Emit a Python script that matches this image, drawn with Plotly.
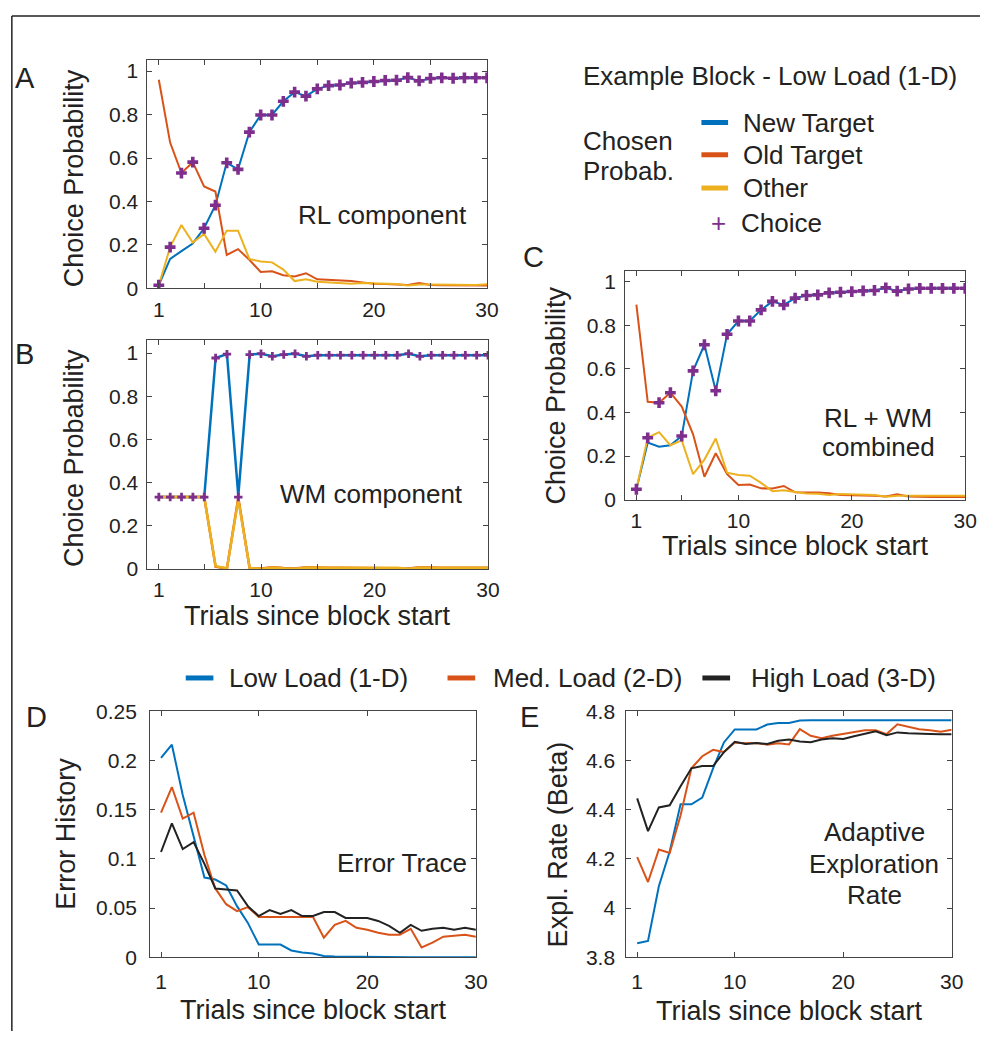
import plotly.graph_objects as go

trials = list(range(1, 31))

# ---- Panel A: RL component ----
rl_new = [0.015, 0.136, 0.172, 0.207, 0.277, 0.383, 0.578, 0.548, 0.719, 0.798,
          0.798, 0.861, 0.903, 0.885, 0.918, 0.933, 0.936, 0.945, 0.948, 0.952,
          0.957, 0.958, 0.970, 0.955, 0.966, 0.969, 0.967, 0.969, 0.969, 0.969]
rl_old = [0.960, 0.671, 0.531, 0.581, 0.469, 0.446, 0.154, 0.181, 0.132, 0.076,
          0.079, 0.061, 0.055, 0.070, 0.042, 0.040, 0.038, 0.034, 0.028, 0.022,
          0.021, 0.020, 0.016, 0.025, 0.016, 0.015, 0.014, 0.014, 0.013, 0.014]
rl_other = [0.015, 0.190, 0.292, 0.211, 0.251, 0.169, 0.266, 0.266, 0.136, 0.124,
            0.120, 0.087, 0.034, 0.042, 0.031, 0.027, 0.026, 0.022, 0.025, 0.024,
            0.021, 0.020, 0.014, 0.018, 0.018, 0.017, 0.018, 0.016, 0.016, 0.019]
rl_choice = [0.015, 0.190, 0.531, 0.581, 0.277, 0.383, 0.578, 0.548, 0.719, 0.798,
             0.798, 0.861, 0.903, 0.885, 0.918, 0.933, 0.936, 0.945, 0.948, 0.952,
             0.957, 0.958, 0.970, 0.955, 0.966, 0.969, 0.967, 0.969, 0.969, 0.969]

# ---- Panel B: WM component ----
wm_new = [0.333, 0.333, 0.333, 0.333, 0.333, 0.977, 0.995, 0.338, 0.993, 0.997,
          0.985, 0.993, 0.997, 0.985, 0.990, 0.990, 0.990, 0.990, 0.990, 0.990,
          0.990, 0.990, 0.997, 0.985, 0.990, 0.990, 0.990, 0.990, 0.990, 0.990]
wm_old = [0.333, 0.333, 0.333, 0.333, 0.333, 0.010, 0.002, 0.330, 0.003, 0.002,
          0.008, 0.004, 0.002, 0.008, 0.005, 0.005, 0.005, 0.005, 0.005, 0.005,
          0.005, 0.005, 0.002, 0.008, 0.005, 0.005, 0.005, 0.005, 0.005, 0.005]
wm_other = [0.333, 0.333, 0.333, 0.333, 0.333, 0.013, 0.003, 0.322, 0.004, 0.001,
            0.007, 0.003, 0.001, 0.007, 0.005, 0.005, 0.005, 0.005, 0.005, 0.005,
            0.005, 0.005, 0.001, 0.007, 0.005, 0.005, 0.005, 0.005, 0.005, 0.005]
wm_choice = [0.333, 0.333, 0.333, 0.333, 0.333, 0.977, 0.995, 0.333, 0.993, 0.997,
             0.985, 0.993, 0.997, 0.985, 0.990, 0.990, 0.990, 0.990, 0.990, 0.990,
             0.990, 0.990, 0.997, 0.985, 0.990, 0.990, 0.990, 0.990, 0.990, 0.990]

# ---- Panel C: RL + WM combined ----
cb_new = [0.048, 0.262, 0.243, 0.250, 0.292, 0.591, 0.711, 0.500, 0.759, 0.820,
          0.820, 0.871, 0.910, 0.894, 0.925, 0.937, 0.940, 0.949, 0.952, 0.955,
          0.958, 0.960, 0.972, 0.957, 0.967, 0.970, 0.970, 0.970, 0.970, 0.970]
cb_old = [0.895, 0.449, 0.445, 0.491, 0.427, 0.300, 0.105, 0.213, 0.117, 0.067,
          0.070, 0.052, 0.051, 0.063, 0.034, 0.035, 0.033, 0.030, 0.022, 0.020,
          0.020, 0.018, 0.015, 0.025, 0.015, 0.012, 0.012, 0.012, 0.012, 0.012]
cb_other = [0.048, 0.284, 0.310, 0.250, 0.272, 0.117, 0.184, 0.281, 0.124, 0.113,
            0.110, 0.077, 0.039, 0.043, 0.035, 0.028, 0.027, 0.021, 0.026, 0.025,
            0.022, 0.022, 0.013, 0.018, 0.018, 0.018, 0.018, 0.018, 0.018, 0.018]
cb_choice = [0.048, 0.284, 0.445, 0.491, 0.292, 0.591, 0.711, 0.500, 0.759, 0.820,
             0.820, 0.871, 0.910, 0.894, 0.925, 0.937, 0.940, 0.949, 0.952, 0.955,
             0.958, 0.960, 0.972, 0.957, 0.967, 0.970, 0.970, 0.970, 0.970, 0.970]

# ---- Panel D: Error trace ----
err_low = [0.2025, 0.216, 0.165, 0.123, 0.081, 0.079, 0.073, 0.052, 0.035, 0.013,
           0.013, 0.013, 0.007, 0.005, 0.004, 0.0015, 0.001, 0.0008, 0.0005, 0.0004,
           0.0003, 0.0002, 0.0002, 0.0001, 0.0001, 0.0001, 0.0001, 0.0001, 0.0001, 0.0001]
err_med = [0.147, 0.173, 0.141, 0.147, 0.104, 0.070, 0.054, 0.047, 0.051, 0.041,
           0.041, 0.041, 0.041, 0.041, 0.041, 0.020, 0.033, 0.037, 0.030, 0.028,
           0.025, 0.023, 0.023, 0.029, 0.010, 0.015, 0.021, 0.022, 0.023, 0.021]
err_high = [0.107, 0.136, 0.110, 0.117, 0.095, 0.070, 0.069, 0.068, 0.052, 0.042,
            0.048, 0.044, 0.048, 0.042, 0.042, 0.046, 0.046, 0.040, 0.040, 0.040,
            0.037, 0.032, 0.025, 0.033, 0.027, 0.029, 0.030, 0.028, 0.030, 0.028]

# ---- Panel E: Adaptive exploration rate ----
beta_low = [3.857, 3.867, 4.089, 4.230, 4.422, 4.422, 4.449, 4.568, 4.673, 4.726,
            4.726, 4.726, 4.746, 4.752, 4.752, 4.762, 4.763, 4.763, 4.763, 4.763,
            4.763, 4.763, 4.763, 4.763, 4.763, 4.763, 4.763, 4.763, 4.763, 4.763]
beta_med = [4.207, 4.106, 4.238, 4.224, 4.376, 4.568, 4.617, 4.643, 4.634, 4.673,
            4.670, 4.671, 4.664, 4.670, 4.665, 4.727, 4.700, 4.690, 4.700, 4.707,
            4.717, 4.723, 4.723, 4.707, 4.747, 4.738, 4.727, 4.723, 4.717, 4.725]
beta_high = [4.446, 4.313, 4.409, 4.418, 4.495, 4.568, 4.577, 4.577, 4.634, 4.676,
             4.667, 4.671, 4.667, 4.680, 4.685, 4.677, 4.674, 4.685, 4.690, 4.687,
             4.698, 4.707, 4.718, 4.703, 4.714, 4.710, 4.707, 4.707, 4.706, 4.706]

prob_ticks = [0, 0.2, 0.4, 0.6, 0.8, 1]
x_ticks_fine = [1, 5, 10, 15, 20, 25, 30]
x_text_fine = ["1", "", "10", "", "20", "", "30"]
x_ticks = [1, 10, 20, 30]
x_text = ["1", "10", "20", "30"]
err_ticks = [0, 0.05, 0.1, 0.15, 0.2, 0.25]
beta_ticks = [3.8, 4, 4.2, 4.4, 4.6, 4.8]

BLUE = "#0072BD"
RED = "#D95319"
YELLOW = "#EDB120"
PURPLE = "#7E2F8E"
BLACK = "#222222"
FONT = "Liberation Sans, Arial, Helvetica, sans-serif"
TXT = "#222222"
AXC = "#444444"

W, H = 992, 1042


def px(x):
    return x / W


def py(y):
    return 1 - y / H


fig = go.Figure()


def add_lines(xa, ya, series, width=2):
    for vals, col in series:
        fig.add_trace(go.Scatter(x=trials, y=vals, mode="lines", xaxis=xa, yaxis=ya,
                                 line=dict(color=col, width=width), showlegend=False,
                                 hoverinfo="skip"))


def add_choice(xa, ya, vals, size):
    fig.add_trace(go.Scatter(x=trials, y=vals, mode="markers", xaxis=xa, yaxis=ya,
                             marker=dict(symbol="cross", size=size, color=PURPLE,
                                         line=dict(width=0)),
                             showlegend=False, hoverinfo="skip"))


add_lines("x", "y", [(rl_new, BLUE), (rl_old, RED), (rl_other, YELLOW)])
add_choice("x", "y", rl_choice, 9)
add_lines("x2", "y2", [(wm_new, BLUE), (wm_old, RED), (wm_other, YELLOW)], width=2.5)
add_choice("x2", "y2", wm_choice, 7)
add_lines("x3", "y3", [(cb_new, BLUE), (cb_old, RED), (cb_other, YELLOW)])
add_choice("x3", "y3", cb_choice, 9)
add_lines("x4", "y4", [(err_low, BLUE), (err_med, RED), (err_high, BLACK)])
add_lines("x5", "y5", [(beta_low, BLUE), (beta_med, RED), (beta_high, BLACK)])


def axis(domain, rng, tickvals, ticktext=None, anchor=None, standoff=2):
    d = dict(domain=domain, range=rng, showline=True, linecolor=AXC, linewidth=1,
             mirror="ticks", ticks="inside", ticklen=5, tickcolor=AXC, tickwidth=1,
             showgrid=False, zeroline=False, tickvals=tickvals,
             tickfont=dict(size=21, color=TXT, family=FONT), anchor=anchor,
             ticklabelstandoff=standoff)
    if ticktext is not None:
        d["ticktext"] = ticktext
    return d


layout = dict(
    width=W, height=H, autosize=False, margin=dict(l=0, r=0, t=0, b=0, pad=0),
    paper_bgcolor="white", plot_bgcolor="white",
    font=dict(family=FONT, color=TXT),
    showlegend=False,
)
# panel boxes in pixel coordinates
boxes = {
    "A": (149.3, 493.0, 49.3, 282.7),
    "B": (149.3, 494.0, 335.5, 569.5),
    "C": (632.7, 977.0, 264.7, 498.7),
    "D": (152.0, 481.7, 715.0, 966.7),
    "E": (634.0, 963.3, 715.0, 966.7),
}


def dom(key):
    x0, x1, y0, y1 = boxes[key]
    return [px(x0), px(x1)], [py(y1), py(y0)]


xd, yd = dom("A")
layout["xaxis"] = axis(xd, [0, 30], x_ticks_fine, x_text_fine, "y")
layout["yaxis"] = axis(yd, [0, 1.05], prob_ticks, anchor="x", standoff=4)
xd, yd = dom("B")
layout["xaxis2"] = axis(xd, [0, 30], x_ticks_fine, x_text_fine, "y2")
layout["yaxis2"] = axis(yd, [0, 1.06], prob_ticks, anchor="x2", standoff=4)
xd, yd = dom("C")
layout["xaxis3"] = axis(xd, [0, 30], x_ticks_fine, x_text_fine, "y3")
layout["yaxis3"] = axis(yd, [0, 1.05], prob_ticks, anchor="x3", standoff=4)
xd, yd = dom("D")
layout["xaxis4"] = axis(xd, [0, 30], x_ticks, x_text, "y4", standoff=5)
layout["yaxis4"] = axis(yd, [0, 0.25], err_ticks, anchor="x4", standoff=8)
xd, yd = dom("E")
layout["xaxis5"] = axis(xd, [0, 30], x_ticks, x_text, "y5", standoff=5)
layout["yaxis5"] = axis(yd, [3.8, 4.8], beta_ticks, anchor="x5", standoff=6)

fig.update_layout(**layout)

ann = []


def text(x, y, s, size=26, xanchor="center", angle=0, color=TXT):
    ann.append(dict(x=px(x), y=py(y), xref="paper", yref="paper", text=s,
                    showarrow=False, xanchor=xanchor, yanchor="middle",
                    textangle=angle, font=dict(size=size, color=color, family=FONT)))


# panel letters
text(25, 67, "A", 29)
text(25, 350, "B", 29)
text(540, 251, "C", 29)
text(37, 721, "D", 29)
text(536, 721, "E", 29)

# axis titles
text(75, 170, "Choice Probability", 27, angle=-90)
text(75, 456, "Choice Probability", 27, angle=-90)
text(563, 392, "Choice Probability", 27, angle=-90)
text(67, 840, "Error History", 27, angle=-90)
text(565, 851, "Expl. Rate (Beta)", 27, angle=-90)
text(321.6, 618, "Trials since block start", 27)
text(805, 546, "Trials since block start", 27)
text(317, 1021, "Trials since block start", 27)
text(799, 1022, "Trials since block start", 27)

# in-panel labels
text(387, 208, "RL component", 26)
text(376, 493, "WM component", 26)
text(889, 415, "RL + WM", 26)
text(889, 445, "combined", 26)
text(407, 870, "Error Trace", 26)
text(885, 838, "Adaptive", 26)
text(885, 871, "Exploration", 26)
text(885, 903, "Rate", 26)

# top-right legend
text(588, 65, "Example Block - Low Load (1-D)", 26, xanchor="left")
text(588, 132, "Chosen", 26, xanchor="left")
text(588, 163, "Probab.", 26, xanchor="left")
text(750, 113, "New Target", 26, xanchor="left")
text(750, 146, "Old Target", 26, xanchor="left")
text(750, 180, "Other", 26, xanchor="left")
text(727, 216, "+", 26, color=PURPLE)
text(748, 216, "Choice", 26, xanchor="left")

# bottom legend
text(230, 681, "Low Load (1-D)", 26, xanchor="left")
text(497, 681, "Med. Load (2-D)", 26, xanchor="left")
text(758, 681, "High Load (3-D)", 26, xanchor="left")

shapes = []


def seg(x0, y0, x1, y1, color, width):
    shapes.append(dict(type="line", xref="paper", yref="paper",
                       x0=px(x0), y0=py(y0), x1=px(x1), y1=py(y1),
                       line=dict(color=color, width=width)))


seg(710, 113, 737, 113, BLUE, 5)
seg(710, 146, 737, 146, RED, 5)
seg(710, 180, 737, 180, YELLOW, 5)
seg(188, 681, 216, 681, BLUE, 5)
seg(453, 681, 481, 681, RED, 5)
seg(711, 681, 739, 681, BLACK, 5)
# outer frame
seg(12, 4, 12, 1042, "#222222", 1.5)
seg(12, 4, 992, 4, "#222222", 1.5)

fig.update_layout(annotations=ann, shapes=shapes)

page_fix = ("document.documentElement.style.margin='0';"
            "document.documentElement.style.padding='0';"
            "document.documentElement.style.overflow='hidden';"
            "document.body.style.margin='0';"
            "document.body.style.padding='0';"
            "document.body.style.overflow='hidden';")
fig.write_html("out.html", post_script=page_fix)
